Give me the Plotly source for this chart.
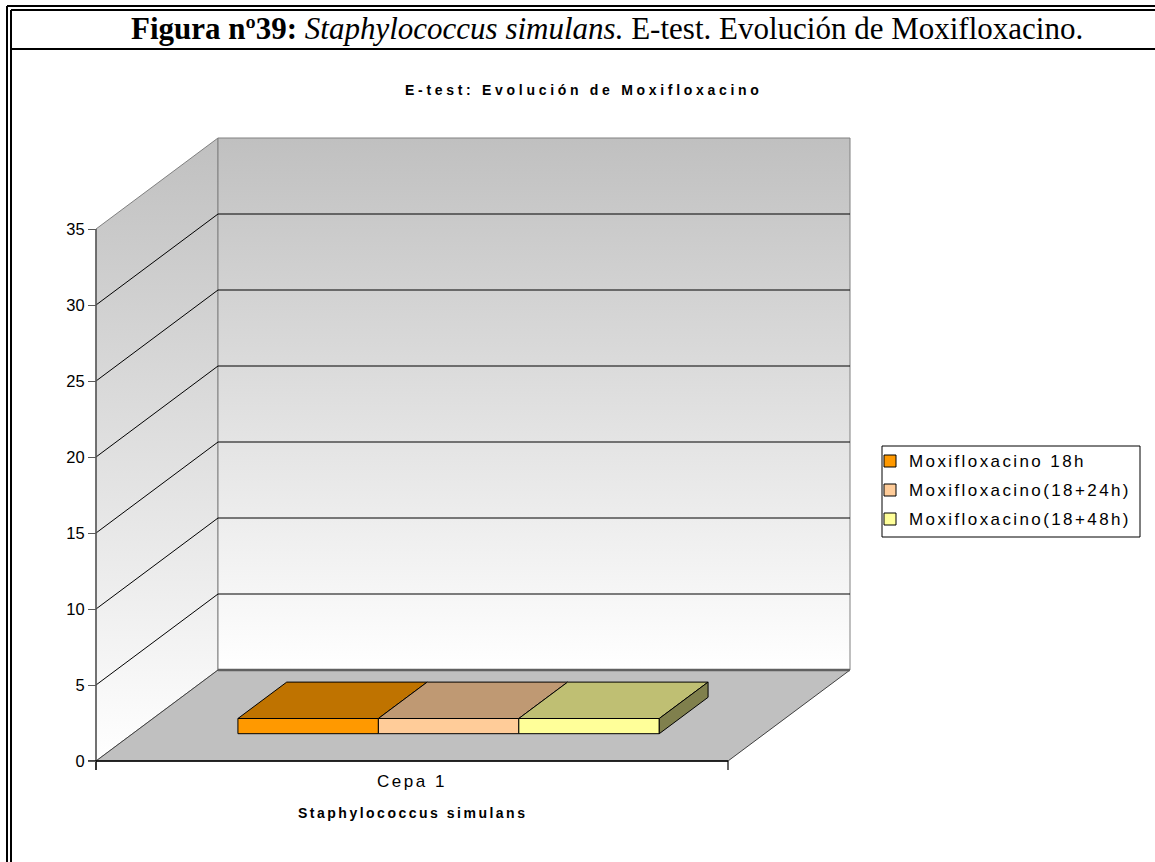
import plotly.graph_objects as go

# ---------------- data ----------------
categories = ["Cepa 1"]
series_names = ["Moxifloxacino 18h", "Moxifloxacino(18+24h)", "Moxifloxacino(18+48h)"]
series_values = [1, 1, 1]
y_ticks = [0, 5, 10, 15, 20, 25, 30, 35]
category_title = "Staphylococcus simulans"
chart_title = "E-test: Evolución de Moxifloxacino"
header_bold = "Figura nº39:"
header_italic = "Staphylococcus simulans."
header_rest = "E-test. Evolución de Moxifloxacino."

# ---------------- styles ----------------
front_colors = ["#FF9900", "#FFCC99", "#FFFF99"]
top_colors = ["#BF7300", "#BF9973", "#BFBF73"]
side_colors = ["#804D00", "#80664D", "#80804D"]

W, H = 1155, 862
CAT_X0_PX, CAT_X1_PX = 96, 728       # front edge of the category axis
ZERO_Y_PX = 761                      # value 0 on the front edge
PX_PER_UNIT = 15.2                   # vertical pixels per value unit
DEPTH_DX_PX, DEPTH_DY_PX = 122, 91   # oblique depth offset of the back wall
GAP_WIDTH = 1.5                      # gap between clusters, in bar widths
BAR_DEPTH = (0.3, 0.7)               # bar front/back as fraction of depth

CAT_PX = (CAT_X1_PX - CAT_X0_PX) / len(categories)
DX = DEPTH_DX_PX / CAT_PX
DY = DEPTH_DY_PX / PX_PER_UNIT
VMAX = y_ticks[-1]

x_range = [-CAT_X0_PX / CAT_PX, (W - CAT_X0_PX) / CAT_PX]
y_range = [(ZERO_Y_PX - H) / PX_PER_UNIT, ZERO_Y_PX / PX_PER_UNIT]
NCAT = len(categories)


def px(xp):
    return xp / W


def py(yp):
    return 1 - yp / H


def spaced(text, ls):
    return f'<span style="letter-spacing:{ls}px">{text}</span>'


fig = go.Figure()

# ---- walls and floor (base subplot) ----
wall_grad = dict(type="vertical", colorscale=[[0, "#FFFFFF"], [1, "#C0C0C0"]])
fig.add_trace(go.Scatter(
    x=[0, 0, DX, DX, 0], y=[0, VMAX, VMAX + DY, DY, 0],
    mode="lines", fill="toself", fillgradient=wall_grad,
    line=dict(color="#808080", width=1), hoverinfo="skip", showlegend=False))
fig.add_trace(go.Scatter(
    x=[DX, DX, NCAT + DX, NCAT + DX, DX], y=[DY, VMAX + DY, VMAX + DY, DY, DY],
    mode="lines", fill="toself", fillgradient=wall_grad,
    line=dict(color="#808080", width=1), hoverinfo="skip", showlegend=False))

# gridlines on the side wall and the back wall
gx, gy = [], []
for v in y_ticks[1:-1]:
    gx += [0, DX, NCAT + DX, None]
    gy += [v, v + DY, v + DY, None]
fig.add_trace(go.Scatter(x=gx, y=gy, mode="lines",
                         line=dict(color="#000000", width=1),
                         hoverinfo="skip", showlegend=False))

# floor
fig.add_trace(go.Scatter(
    x=[0, DX, NCAT + DX, NCAT, 0], y=[0, DY, DY, 0, 0],
    mode="lines", fill="toself", fillcolor="#C0C0C0",
    line=dict(color="#404040", width=1), hoverinfo="skip", showlegend=False))
fig.add_trace(go.Scatter(x=[DX, NCAT + DX], y=[DY, DY], mode="lines",
                         line=dict(color="#606060", width=2.5),
                         hoverinfo="skip", showlegend=False))

# front value-axis line and category axis line with boundary ticks
tick_u = 9 / PX_PER_UNIT
tick_x = 8 / CAT_PX
fig.add_trace(go.Scatter(x=[0, 0], y=[-tick_u, VMAX], mode="lines",
                         line=dict(color="#595959", width=1.5),
                         hoverinfo="skip", showlegend=False))
fig.add_trace(go.Scatter(x=[-tick_x, NCAT], y=[0, 0], mode="lines",
                         line=dict(color="#000000", width=1.5),
                         hoverinfo="skip", showlegend=False))
bx, by = [], []
for k in range(NCAT + 1):
    bx += [k, k, None]
    by += [0, -tick_u, None]
fig.add_trace(go.Scatter(x=bx, y=by, mode="lines",
                         line=dict(color="#000000", width=1.2),
                         hoverinfo="skip", showlegend=False))

# ---- bars (overlay subplot, drawn above the walls) ----
n = len(series_names)
w = 1.0 / (n + GAP_WIDTH)
d0, d1 = BAR_DEPTH
for c in range(NCAT):
    for i, (name, val) in enumerate(zip(series_names, series_values)):
        u0 = c + GAP_WIDTH / 2 * w + i * w
        u1 = u0 + w
        fig.add_trace(go.Bar(
            x=[u0 + w / 2 + d0 * DX], y=[val], base=[d0 * DY], width=[w],
            marker=dict(color=front_colors[i], line=dict(color="#000000", width=1)),
            name=name, showlegend=False, xaxis="x2", yaxis="y2", hoverinfo="skip"))
        fig.add_trace(go.Scatter(
            x=[u0 + d0 * DX, u0 + d1 * DX, u1 + d1 * DX, u1 + d0 * DX, u0 + d0 * DX],
            y=[d0 * DY + val, d1 * DY + val, d1 * DY + val, d0 * DY + val, d0 * DY + val],
            mode="lines", fill="toself", fillcolor=top_colors[i],
            line=dict(color="#000000", width=1), xaxis="x2", yaxis="y2",
            hoverinfo="skip", showlegend=False))
        if i == n - 1:
            fig.add_trace(go.Scatter(
                x=[u1 + d0 * DX, u1 + d1 * DX, u1 + d1 * DX, u1 + d0 * DX, u1 + d0 * DX],
                y=[d0 * DY, d1 * DY, d1 * DY + val, d0 * DY + val, d0 * DY],
                mode="lines", fill="toself", fillcolor=side_colors[i],
                line=dict(color="#000000", width=1), xaxis="x2", yaxis="y2",
                hoverinfo="skip", showlegend=False))

# ---- layout ----
SANS = "Arial, Liberation Sans, sans-serif"
tick_font = dict(family=SANS, size=16.5, color="#000000")
label_font = dict(family=SANS, size=17, color="#000000")
fig.update_layout(
    width=W, height=H, margin=dict(l=0, r=0, t=0, b=0),
    paper_bgcolor="#FFFFFF", plot_bgcolor="rgba(0,0,0,0)",
    barmode="overlay", showlegend=False, hovermode=False,
    xaxis=dict(range=x_range, domain=[0, 1], anchor="free", position=py(ZERO_Y_PX),
               showgrid=False, zeroline=False, showline=False,
               tickmode="array", tickvals=[c + 0.5 for c in range(NCAT)],
               ticktext=[spaced(t, 2.5) for t in categories],
               ticks="", ticklabelstandoff=8, tickfont=label_font, automargin=False),
    yaxis=dict(range=y_range, domain=[0, 1], anchor="free", position=px(CAT_X0_PX),
               showgrid=False, zeroline=False, showline=False,
               tickmode="array", tickvals=y_ticks, ticktext=[str(t) for t in y_ticks],
               ticks="outside", ticklen=8, tickwidth=1, tickcolor="#595959",
               tickfont=tick_font, automargin=False),
    xaxis2=dict(range=x_range, overlaying="x", anchor="y2", visible=False),
    yaxis2=dict(range=y_range, overlaying="y", anchor="x2", visible=False),
)

# ---- legend (drawn from the series lists) ----
LEG_X0, LEG_X1, LEG_Y0, LEG_Y1 = 882, 1140, 446, 537
shapes = [dict(type="rect", xref="paper", yref="paper",
               x0=px(LEG_X0), x1=px(LEG_X1), y0=py(LEG_Y0), y1=py(LEG_Y1),
               line=dict(color="#000000", width=1), fillcolor="#FFFFFF")]
annotations = []
for i, name in enumerate(series_names):
    cy = 461 + 29 * i
    shapes.append(dict(type="rect", xref="paper", yref="paper",
                       x0=px(884), x1=px(896), y0=py(cy + 6), y1=py(cy - 6),
                       line=dict(color="#000000", width=1), fillcolor=front_colors[i]))
    annotations.append(dict(xref="paper", yref="paper", x=px(907), y=py(cy),
                            xanchor="left", yanchor="middle", showarrow=False,
                            text=spaced(name, 2.4), font=label_font))

# chart title and category-axis title
annotations.append(dict(xref="paper", yref="paper", x=px(584), y=py(90),
                        xanchor="center", yanchor="middle", showarrow=False,
                        text="<b>" + spaced(chart_title, 3.7) + "</b>",
                        font=dict(family=SANS, size=14, color="#000000")))
annotations.append(dict(xref="x", yref="paper", x=NCAT / 2, y=py(813),
                        xanchor="center", yanchor="middle", showarrow=False,
                        text="<b>" + spaced(category_title, 2.5) + "</b>",
                        font=dict(family=SANS, size=14, color="#000000")))

# page header
annotations.append(dict(xref="paper", yref="paper", x=px(607), y=py(29),
                        xanchor="center", yanchor="middle", showarrow=False,
                        text=f"<b>{header_bold}</b> <i>{header_italic}</i> {header_rest}",
                        font=dict(family="Liberation Serif, Times New Roman, serif", size=31, color="#000000")))

# page frame: double border on top/left and header separator
for (xa, ya, xb, yb) in [(7, 6, W, 6), (11, 10, W, 10), (7, 6, 7, H), (11, 10, 11, H), (11, 49, W, 49)]:
    shapes.append(dict(type="line", xref="paper", yref="paper",
                       x0=px(xa), y0=py(ya), x1=px(xb), y1=py(yb),
                       line=dict(color="#000000", width=2)))

fig.update_layout(shapes=shapes, annotations=annotations)
fig.write_html("out.html")
